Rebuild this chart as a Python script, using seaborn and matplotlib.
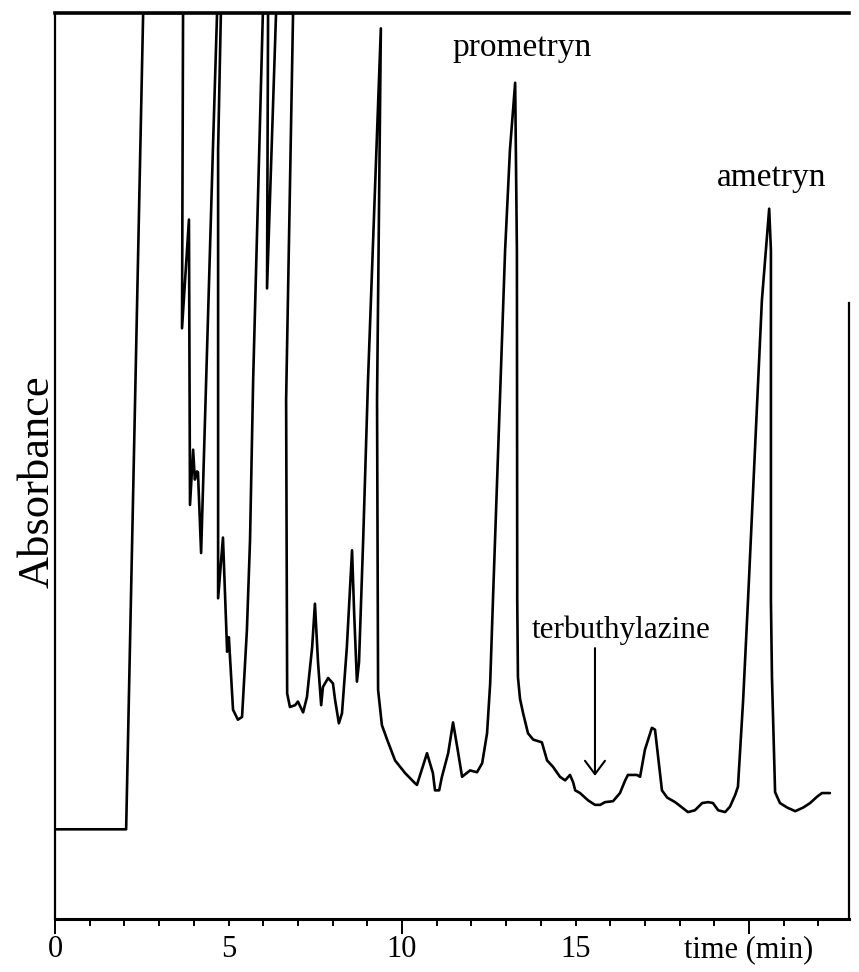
import matplotlib
matplotlib.use("Agg")
import matplotlib.pyplot as plt
import seaborn as sns
import pandas as pd
from matplotlib.ticker import FixedLocator, FixedFormatter

# ---- data (time in min, absorbance in % of full scale) ----
time_min = [
    0.00, 2.05, 2.54, 3.69, 3.66, 3.86, 3.89, 3.98, 4.03, 4.09, 4.12, 4.21, 4.55, 4.67,
    4.78, 4.70, 4.70, 4.84, 4.96, 5.01, 5.13, 5.27, 5.39, 5.53, 5.62, 5.71, 5.99, 6.14,
    6.11, 6.37, 6.86, 6.66, 6.69, 6.77, 6.92, 7.00, 7.15, 7.26, 7.41, 7.49, 7.58, 7.67,
    7.72, 7.87, 8.01, 8.07, 8.18, 8.27, 8.41, 8.56, 8.62, 8.70, 8.76, 8.88, 9.02, 9.39,
    9.28, 9.31, 9.42, 9.57, 9.80, 10.09, 10.37, 10.43, 10.72, 10.89, 10.95, 11.07, 11.15,
    11.33, 11.47, 11.59, 11.73, 11.96, 12.16, 12.31, 12.45, 12.54, 12.62, 12.82, 12.97,
    13.11, 13.26, 13.31, 13.32, 13.34, 13.40, 13.49, 13.63, 13.78, 14.03, 14.18, 14.35,
    14.55, 14.70, 14.84, 14.93, 14.99, 15.13, 15.36, 15.56, 15.71, 15.85, 16.08, 16.28,
    16.43, 16.51, 16.77, 16.86, 17.00, 17.20, 17.29, 17.38, 17.49, 17.64, 17.87, 18.07,
    18.24, 18.44, 18.65, 18.82, 18.96, 19.11, 19.31, 19.45, 19.60, 19.68, 19.83, 19.97,
    20.17, 20.37, 20.58, 20.63, 20.63, 20.66, 20.75, 20.89, 21.10, 21.33, 21.56, 21.76,
    21.96, 22.10, 22.33,
]
absorbance = [
    9.9, 9.9, 100.0, 100.0, 65.2, 77.2, 45.7, 51.8, 48.5, 49.4, 49.3, 40.4, 84.9, 100.0,
    100.0, 84.9, 35.4, 42.1, 29.5, 31.1, 23.1, 22.0, 22.3, 31.9, 41.8, 59.5, 100.0, 100.0,
    69.6, 100.0, 100.0, 57.3, 24.9, 23.4, 23.6, 24.0, 22.8, 24.5, 30.0, 34.8, 28.3, 23.6,
    25.6, 26.6, 26.0, 24.2, 21.6, 22.7, 30.0, 40.7, 33.8, 26.2, 28.3, 41.8, 59.5, 98.3,
    57.3, 25.3, 21.4, 19.8, 17.5, 16.1, 15.0, 14.8, 18.3, 16.1, 14.2, 14.2, 15.7,
    18.3, 21.7, 19.0, 15.7, 16.4, 16.2, 17.2, 20.5, 26.0, 35.2, 57.4, 73.8,
    84.9, 92.3, 73.8, 35.2, 26.7, 24.3, 22.7, 20.5, 19.8, 19.5, 17.5, 16.8,
    15.7, 15.3, 15.9, 15.1, 14.2, 13.9, 13.1, 12.6, 12.6, 12.9, 13.0, 13.9,
    15.3, 15.9, 15.9, 15.7, 18.7, 21.1, 20.9, 17.9, 14.2, 13.4, 12.9, 12.3,
    11.8, 12.0, 12.8, 12.9, 12.8, 12.0, 11.8, 12.4, 13.7, 14.6, 24.2, 35.2,
    51.8, 68.3, 78.4, 73.8, 35.2, 26.7, 14.0, 12.8, 12.3, 11.9, 12.3, 12.8,
    13.5, 13.9, 13.9,
]

peak_names = ["prometryn", "ametryn", "terbuthylazine"]
peak_label_time = [13.46, 20.66, 16.31]
peak_label_abs = [95.3, 80.9, 31.0]
arrow_time = 15.56
arrow_from_to = [29.9, 15.8]

major_ticks = [0, 10, 20]
major_labels = ["0", "10", "time (min)"]
minor_ticks = [t for t in range(1, 23) if t not in (10, 20)]
minor_labels = ["5" if t == 5 else "15" if t == 15 else "" for t in minor_ticks]

df = pd.DataFrame({"time": time_min, "abs": absorbance})

sns.set_theme(style="white")
plt.rcParams["font.family"] = ["Liberation Serif", "DejaVu Serif"]

fig = plt.figure(figsize=(8.59, 9.72), dpi=100)
ax = fig.add_axes([55 / 859, 1 - 919 / 972, (849 - 55) / 859, (919 - 13) / 972])

sns.lineplot(data=df, x="time", y="abs", sort=False, estimator=None,
             color="black", linewidth=1.9, ax=ax)

ax.set_xlim(0, 22.88)
ax.set_ylim(0, 100)
ax.set_xlabel("")
ax.set_ylabel("")
ax.set_yticks([])

ax.xaxis.set_major_locator(FixedLocator(major_ticks))
ax.xaxis.set_major_formatter(FixedFormatter(major_labels))
ax.xaxis.set_minor_locator(FixedLocator(minor_ticks))
ax.xaxis.set_minor_formatter(FixedFormatter(minor_labels))
ax.tick_params(axis="x", which="major", bottom=True, direction="out", length=10.8,
               width=1.4, pad=0.8, labelsize=22, colors="black")
ax.tick_params(axis="x", which="minor", bottom=True, direction="out", length=5,
               width=1.4, pad=6.6, labelsize=22, colors="black")

for side, lw in [("left", 1.6), ("bottom", 2.2), ("top", 2.6), ("right", 1.6)]:
    ax.spines[side].set_visible(True)
    ax.spines[side].set_color("black")
    ax.spines[side].set_linewidth(lw)
ax.spines["right"].set_bounds(0, 68)

for name, tx, ty in zip(peak_names, peak_label_time, peak_label_abs):
    size = 22.5 if name == "terbuthylazine" else 24
    ax.text(tx, ty, name, ha="center", va="baseline", fontsize=size, color="black")

ax.annotate("", xy=(arrow_time, arrow_from_to[1]), xytext=(arrow_time, arrow_from_to[0]),
            arrowprops=dict(arrowstyle="->,head_length=0.8,head_width=0.6",
                            color="black", lw=1.5, mutation_scale=12,
                            shrinkA=0, shrinkB=0))

fig.text(38 / 859, 1 - 482 / 972, "Absorbance", rotation=90, ha="center",
         va="center", fontsize=32, color="black")

fig.savefig("out.png", dpi=100)
